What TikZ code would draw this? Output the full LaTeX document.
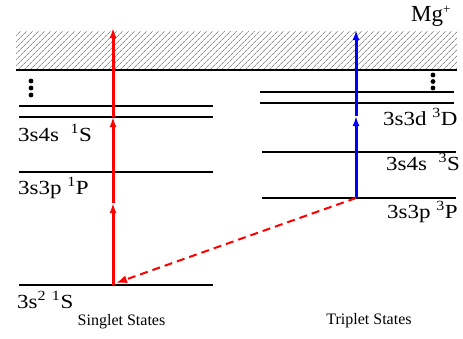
\documentclass[tikz,border=0pt]{standalone}
\usepackage{fontspec}
\setmainfont{Liberation Serif}
\newfontfamily\lvlfont[FakeStretch=1.15]{Liberation Serif}
\usetikzlibrary{arrows.meta, patterns.meta}
\definecolor{beamred}{HTML}{FF0000}
\definecolor{beamblue}{HTML}{0000FF}
\definecolor{hatchgray}{HTML}{555555}
\tikzset{
  level/.style={line width=2.2pt},
  lvllabel/.style={anchor=base west, inner sep=0pt, font=\lvlfont\fontsize{20}{22}\selectfont},
  caption/.style={anchor=base, inner sep=0pt, font=\fontsize{16}{18}\selectfont},
  redbeam/.style={draw=beamred, line width=3pt, -{Latex[length=10pt,width=7pt]}},
  bluebeam/.style={draw=beamblue, line width=3pt, -{Latex[length=10pt,width=7pt]}},
  decay/.style={draw=beamred, line width=2pt, dash pattern=on 8pt off 5pt, -{Latex[length=11pt,width=8pt]}},
}

\begin{document}
\begin{tikzpicture}[x=1pt, y=-1pt]
  \useasboundingbox (0,0) rectangle (463,338);
  % continuum above the ionisation limit
  \fill[pattern={Lines[angle=45, distance=4pt, line width=0.6pt]}, pattern color=hatchgray] (16,31) rectangle (457,70);
  \draw[level] (16,70) -- (457,70);
  \node[anchor=base west, inner sep=0pt, font=\fontsize{23}{25}\selectfont] (ion) at (411,21) {Mg\raisebox{8pt}{\fontsize{13}{13}\selectfont +}};

  % singlet levels
  \draw[level] (19,106) -- (213,106);
  \draw[level] (19,117) -- (213,117);
  \draw[level] (19,172) -- (213,172);
  \draw[level] (19,285) -- (213,285);
  \foreach \y in {81,88,95} \fill (31,\y) circle (2.4pt);

  % triplet levels
  \draw[level] (260,92) -- (454,92);
  \draw[level] (260,103) -- (454,103);
  \draw[level] (262,152) -- (456,152);
  \draw[level] (262,198) -- (456,198);
  \foreach \y in {75,81.5,88} \fill (433,\y) circle (2.4pt);

  % labels
  \node[lvllabel] (s4slbl) at (18,141) {3s4s\ \ \textsuperscript{1}S};
  \node[lvllabel] (s3plbl) at (18,194) {3s3p \textsuperscript{1}P};
  \node[lvllabel] (gndlbl) at (17,308) {3s\textsuperscript{2} \textsuperscript{1}S};
  \node[lvllabel] (t3dlbl) at (383,125) {3s3d \textsuperscript{3}D};
  \node[lvllabel] (t4slbl) at (386,170) {3s4s\ \ \textsuperscript{3}S};
  \node[lvllabel] (t3plbl) at (387,218) {3s3p \textsuperscript{3}P};
  \node[caption] (singlbl) at (121.5,325) {Singlet States};
  \node[caption] (triplbl) at (369,324) {Triplet States};

  % excitation paths
  \coordinate (gnd) at (113,285);
  \coordinate (gndmid) at (113,203);
  \coordinate (s4s) at (113,117);
  \coordinate (stop) at (113,28);
  \coordinate (trip) at (356,198);
  \coordinate (tripmid) at (356,116);
  \coordinate (ttop) at (356,30);
  \coordinate (gndhit) at (116,283);
  \draw[redbeam] (gnd) -- (gndmid);
  \draw[redbeam] (gndmid) -- (s4s);
  \draw[redbeam] (s4s) -- (stop);
  \draw[bluebeam] (trip) -- (tripmid);
  \draw[bluebeam] (tripmid) -- (ttop);
  \draw[decay] (trip) -- (gndhit);
\end{tikzpicture}
\end{document}
